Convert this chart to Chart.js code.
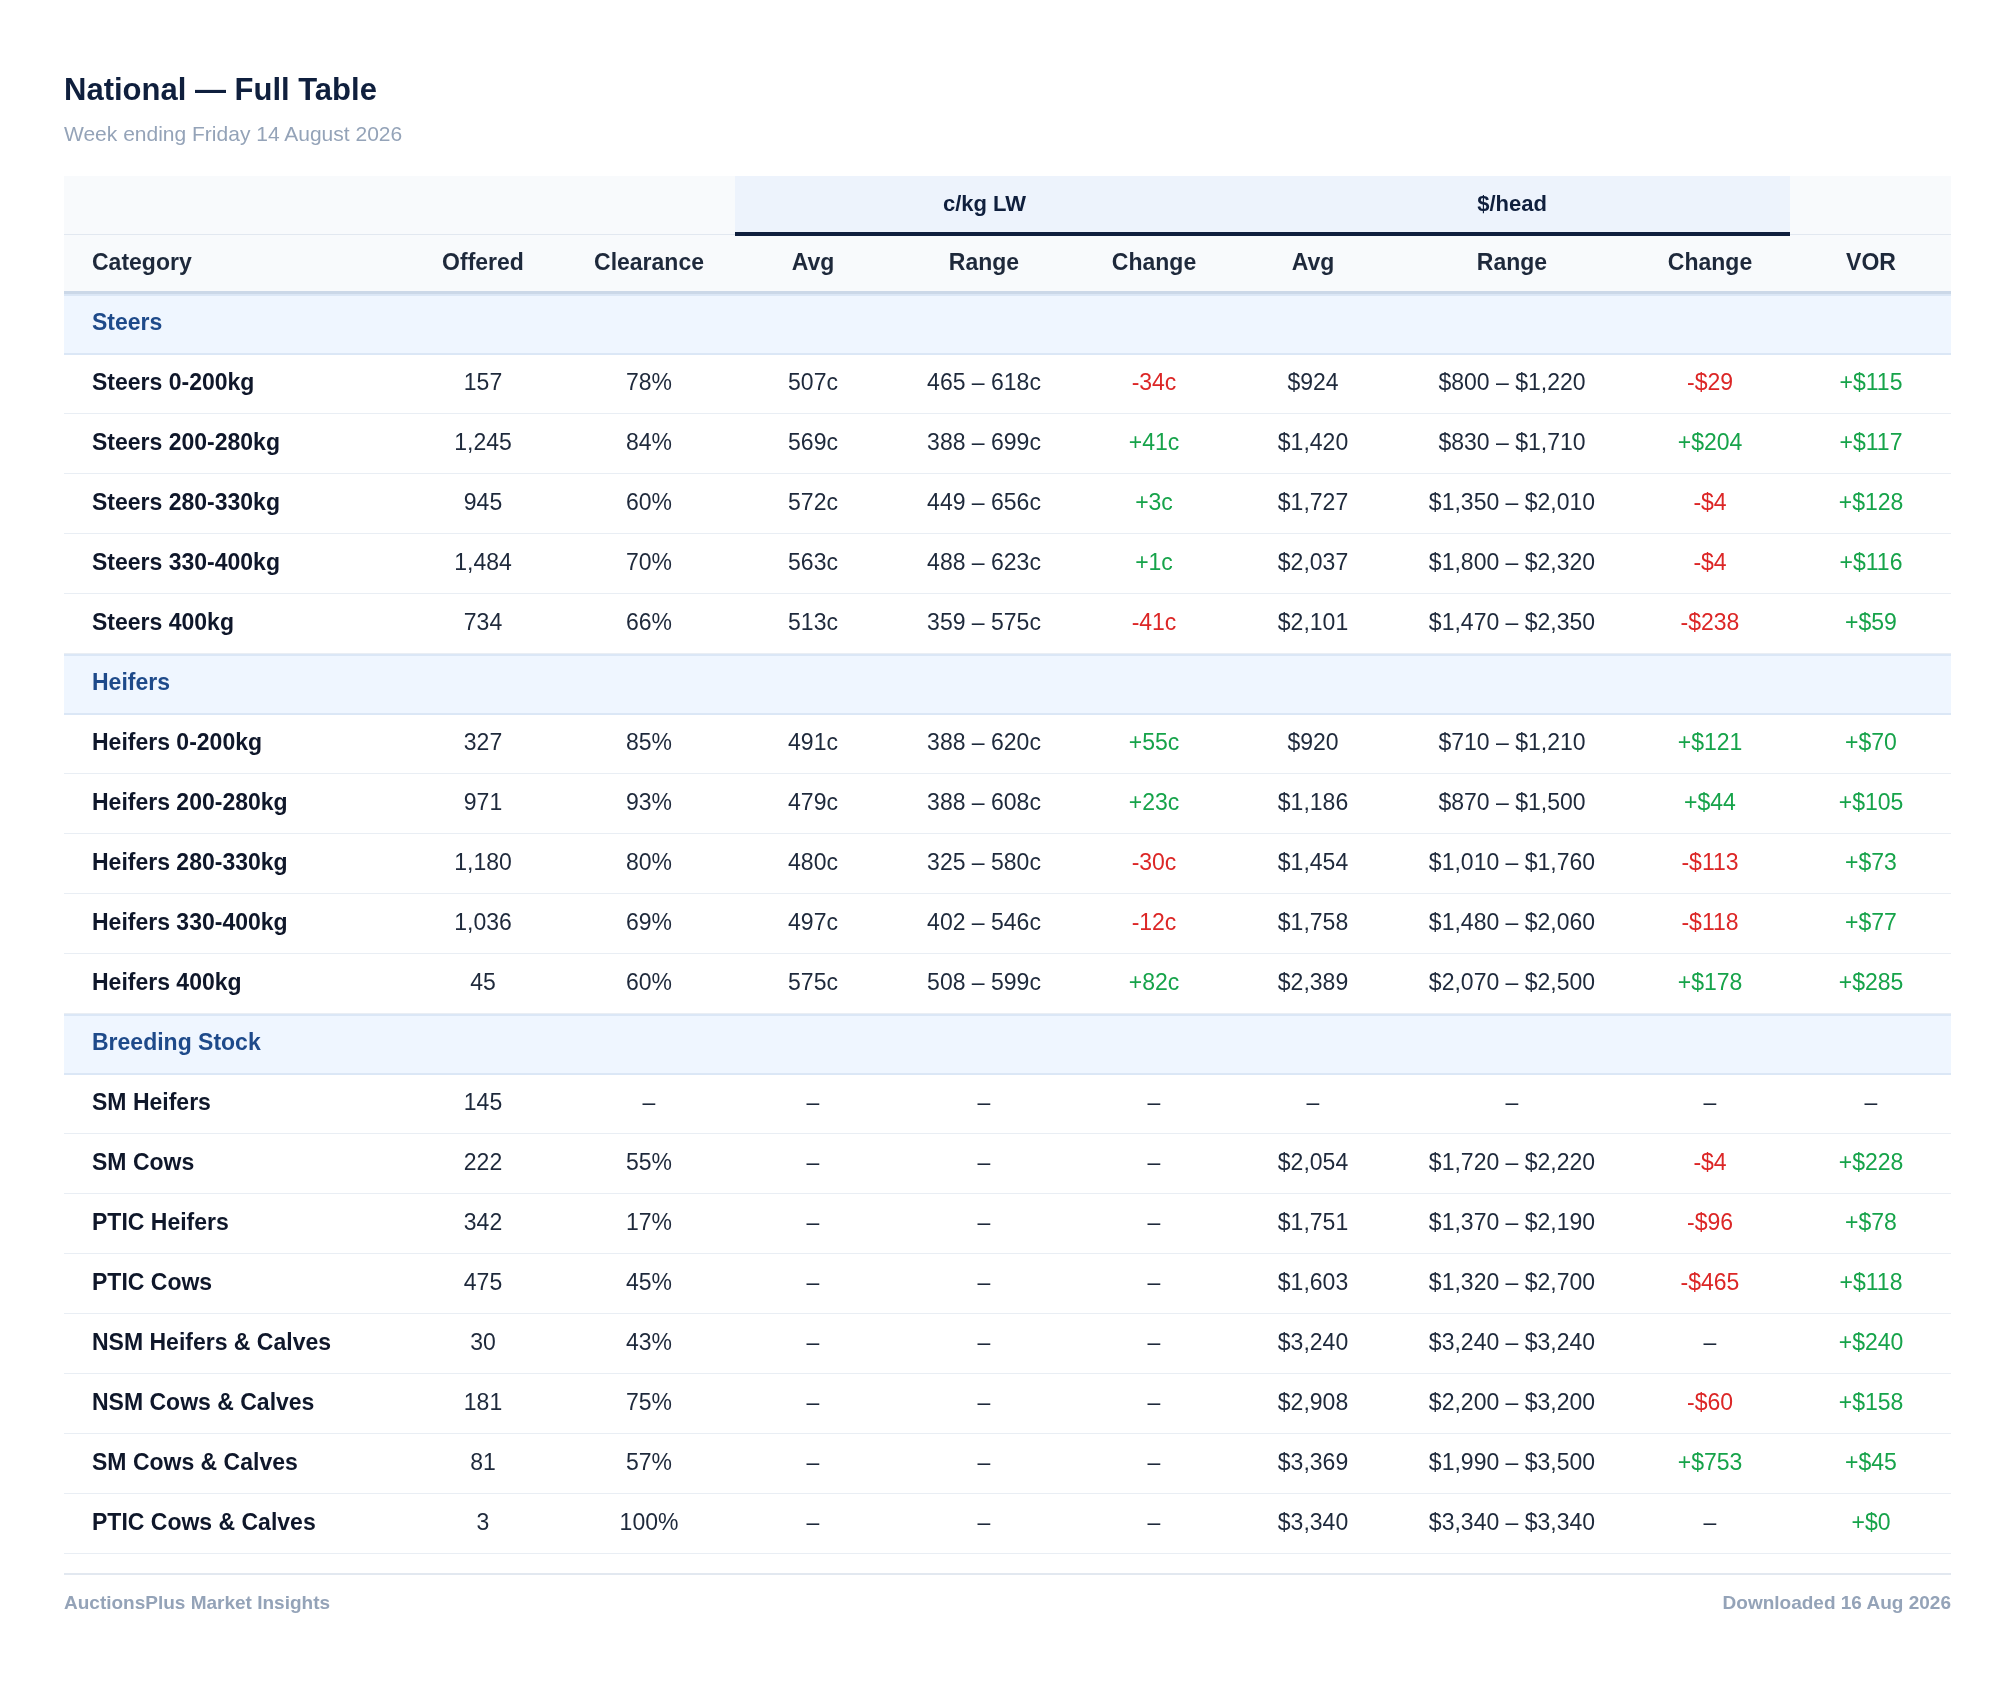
<!DOCTYPE html>
<html>
<head>
<meta charset="utf-8">
<script src="https://cdn.jsdelivr.net/npm/chart.js@4"></script>
<style>
  body { margin: 0; background: #fff; font-family: "Liberation Sans", Arial, sans-serif; }
  #wrap { position: relative; width: 2015px; height: 1692px; }
  canvas { position: absolute; left: 0; top: 0; }
  .title { position: absolute; left: 64px; top: 72px; font-size: 31px; font-weight: bold; color: #0f1f3d; }
  .sub { position: absolute; left: 64px; top: 122px; font-size: 21px; color: #94a3b8; }
  .foot { position: absolute; top: 1592px; font-size: 19px; font-weight: bold; color: #94a3b8; }
  .line { position: absolute; left: 64px; width: 1887px; top: 1573px; height: 2px; background: #e2e8f0; }
</style>
</head>
<body>
<div id="wrap">
  <canvas id="mycanvas" width="2015" height="1692"></canvas>
  <div class="title">National — Full Table</div>
  <div class="sub">Week ending Friday 14 August 2026</div>
  <div class="line"></div>
  <div class="foot" style="left:64px">AuctionsPlus Market Insights</div>
  <div class="foot" style="right:64px">Downloaded 16 Aug 2026</div>
</div>
<script>
var sections = ['Steers', 'Heifers', 'Breeding Stock'];
var categories = ['Steers 0-200kg','Steers 200-280kg','Steers 280-330kg','Steers 330-400kg','Steers 400kg',
  'Heifers 0-200kg','Heifers 200-280kg','Heifers 280-330kg','Heifers 330-400kg','Heifers 400kg',
  'SM Heifers','SM Cows','PTIC Heifers','PTIC Cows','NSM Heifers & Calves','NSM Cows & Calves','SM Cows & Calves','PTIC Cows & Calves'];
var sectionOf = [0,0,0,0,0,1,1,1,1,1,2,2,2,2,2,2,2,2];
var offered = ['157','1,245','945','1,484','734','327','971','1,180','1,036','45','145','222','342','475','30','181','81','3'];
var clearance = ['78%','84%','60%','70%','66%','85%','93%','80%','69%','60%','–','55%','17%','45%','43%','75%','57%','100%'];
var ckgAvg = ['507c','569c','572c','563c','513c','491c','479c','480c','497c','575c','–','–','–','–','–','–','–','–'];
var ckgRange = ['465 – 618c','388 – 699c','449 – 656c','488 – 623c','359 – 575c','388 – 620c','388 – 608c','325 – 580c','402 – 546c','508 – 599c','–','–','–','–','–','–','–','–'];
var ckgChange = ['-34c','+41c','+3c','+1c','-41c','+55c','+23c','-30c','-12c','+82c','–','–','–','–','–','–','–','–'];
var headAvg = ['$924','$1,420','$1,727','$2,037','$2,101','$920','$1,186','$1,454','$1,758','$2,389','–','$2,054','$1,751','$1,603','$3,240','$2,908','$3,369','$3,340'];
var headRange = ['$800 – $1,220','$830 – $1,710','$1,350 – $2,010','$1,800 – $2,320','$1,470 – $2,350','$710 – $1,210','$870 – $1,500','$1,010 – $1,760','$1,480 – $2,060','$2,070 – $2,500','–','$1,720 – $2,220','$1,370 – $2,190','$1,320 – $2,700','$3,240 – $3,240','$2,200 – $3,200','$1,990 – $3,500','$3,340 – $3,340'];
var headChange = ['-$29','+$204','-$4','-$4','-$238','+$121','+$44','-$113','-$118','+$178','–','-$4','-$96','-$465','–','-$60','+$753','–'];
var vor = ['+$115','+$117','+$128','+$116','+$59','+$70','+$105','+$73','+$77','+$285','–','+$228','+$78','+$118','+$240','+$158','+$45','+$0'];
var headers = ['Category','Offered','Clearance','Avg','Range','Change','Avg','Range','Change','VOR'];

// layout (x positions relative to table left edge)
var colX = [28, 419, 585, 749, 920, 1090, 1249, 1448, 1646, 1807];
var groups = [{label: 'c/kg LW', from: 671, to: 1170}, {label: '$/head', from: 1170, to: 1726}];
var ROWH = 60;

// build the row list: section rows + data rows
var rowLabels = [], rowKind = [], rowIdx = [];
var last = -1;
categories.forEach(function(c, i) {
  if (sectionOf[i] !== last) { last = sectionOf[i]; rowLabels.push(sections[last]); rowKind.push('section'); rowIdx.push(last); }
  rowLabels.push(c); rowKind.push('data'); rowIdx.push(i);
});

function colorFor(v) {
  if (v[0] === '+') return '#16a34a';
  if (v[0] === '-') return '#dc2626';
  return '#1e293b';
}

var tablePlugin = {
  id: 'table',
  afterDraw: function(chart) {
    var ctx = chart.ctx, x = chart.scales.x, y = chart.scales.y, a = chart.chartArea;
    ctx.save();
    // header band
    var gTop = a.top - 2 * ROWH + 2, hTop = a.top - ROWH;
    ctx.fillStyle = '#f8fafc';
    ctx.fillRect(a.left, gTop, a.right - a.left, a.top - gTop);
    ctx.fillStyle = '#e2e8f0';
    ctx.fillRect(a.left, hTop, a.right - a.left, 1);
    groups.forEach(function(g) {
      var l = x.getPixelForValue(g.from), r = x.getPixelForValue(g.to);
      ctx.fillStyle = '#edf3fc';
      ctx.fillRect(l, gTop, r - l, hTop - gTop);
      ctx.fillStyle = '#0f1f3d';
      ctx.fillRect(l, hTop - 2, r - l, 4);
      ctx.font = 'bold 22px "Liberation Sans", Arial';
      ctx.textAlign = 'center'; ctx.textBaseline = 'middle';
      ctx.fillText(g.label, (l + r) / 2, (gTop + hTop) / 2);
    });
    ctx.fillStyle = '#cbd8e8';
    ctx.fillRect(a.left, a.top - 3, a.right - a.left, 4);
    ctx.font = 'bold 23px "Liberation Sans", Arial';
    ctx.fillStyle = '#1e293b';
    headers.forEach(function(h, c) {
      ctx.textAlign = c === 0 ? 'left' : 'center';
      ctx.fillText(h, x.getPixelForValue(colX[c]), a.top - ROWH / 2);
    });

    rowLabels.forEach(function(lab, r) {
      var cy = y.getPixelForValue(r);
      if (rowKind[r] === 'section') {
        ctx.fillStyle = '#eff6ff';
        ctx.fillRect(a.left, cy - ROWH / 2, a.right - a.left, ROWH);
        ctx.fillStyle = '#dbe7f6';
        ctx.fillRect(a.left, cy - ROWH / 2, a.right - a.left, 2);
        ctx.fillRect(a.left, cy + ROWH / 2 - 1, a.right - a.left, 2);
        ctx.fillStyle = '#1e4a8a';
        ctx.font = 'bold 23px "Liberation Sans", Arial';
        ctx.textAlign = 'left';
        ctx.fillText(lab, x.getPixelForValue(colX[0]), cy);
        return;
      }
      var i = rowIdx[r];
      ctx.fillStyle = '#e9eef4';
      ctx.fillRect(a.left, cy + ROWH / 2 - 1, a.right - a.left, 1);
      ctx.fillStyle = '#0f172a';
      ctx.font = 'bold 23px "Liberation Sans", Arial';
      ctx.textAlign = 'left';
      ctx.fillText(lab, x.getPixelForValue(colX[0]), cy);
      ctx.font = '23px "Liberation Sans", Arial';
      ctx.textAlign = 'center';
      var vals = [offered[i], clearance[i], ckgAvg[i], ckgRange[i], ckgChange[i], headAvg[i], headRange[i], headChange[i], vor[i]];
      vals.forEach(function(v, c) {
        var col = c + 1;
        ctx.fillStyle = (col === 5 || col === 8 || col === 9) ? colorFor(v) : '#1e293b';
        ctx.fillText(v, x.getPixelForValue(colX[col]), cy);
      });
    });
    ctx.restore();
  }
};

new Chart(document.getElementById('mycanvas'), {
  type: 'scatter',
  data: { labels: rowLabels, datasets: [{ data: [] }] },
  options: {
    responsive: false,
    animation: false,
    devicePixelRatio: 1,
    layout: { padding: { left: 64, right: 64, top: 294, bottom: 138 } },
    plugins: { legend: { display: false }, tooltip: { enabled: false } },
    scales: {
      x: { type: 'linear', min: 0, max: 1887, display: false },
      y: { type: 'category', labels: rowLabels, offset: true, display: false }
    }
  },
  plugins: [tablePlugin]
});
</script>
</body>
</html>
